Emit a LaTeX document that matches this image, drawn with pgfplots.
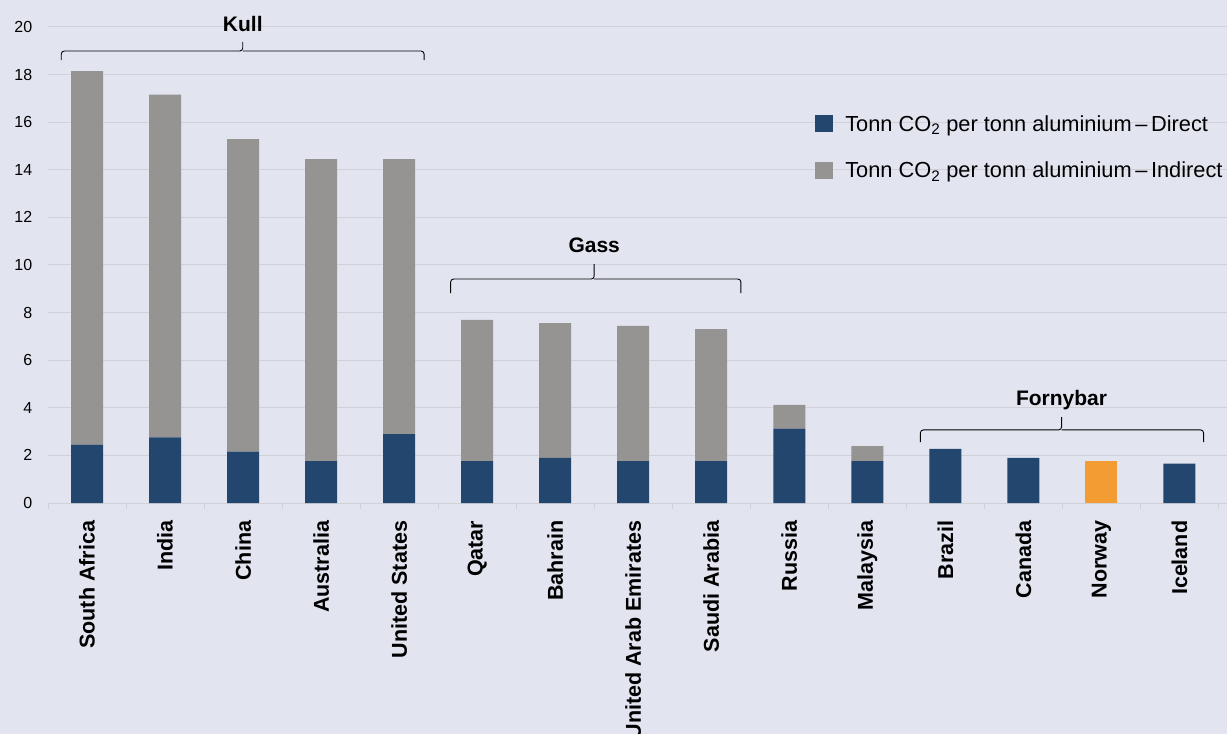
\documentclass[border=0pt]{standalone}
\usepackage{fontspec}
\setmainfont{Liberation Sans}
\usepackage{pgfplots}
\usepackage{pgfplotstable}
\pgfplotsset{compat=1.18}

\definecolor{bgc}{RGB}{226,228,240}
\definecolor{direct}{RGB}{35,70,111}
\definecolor{indirect}{RGB}{149,148,146}
\definecolor{norway}{RGB}{242,156,51}
\definecolor{gridc}{RGB}{208,209,214}

% x direct norway indirect
\pgfplotstableread{
x  direct norway indirect
0  2.45   0      15.70
1  2.76   0      14.40
2  2.16   0      13.13
3  1.76   0      12.69
4  2.89   0      11.56
5  1.76   0      5.93
6  1.90   0      5.66
7  1.76   0      5.68
8  1.76   0      5.55
9  3.12   0      1.00
10 1.76   0      0.63
11 2.27   0      0
12 1.90   0      0
13 0      1.76   0
14 1.65   0      0
}\datatable

\begin{document}
\begin{tikzpicture}
\useasboundingbox (0,0) rectangle (1227pt,734pt);
\clip (0,0) rectangle (1227pt,734pt);
\fill[bgc] (0,0) rectangle (1227pt,734pt);
\begin{axis}[
    at={(48pt,231pt)}, anchor=south west,
    scale only axis, width=1179pt, height=476pt,
    xmin=-0.5, xmax=14.61, ymin=0, ymax=20,
    ybar stacked, bar width=0.41,
    clip=false,
    separate axis lines,
    axis x line*=bottom, axis y line*=left,
    x axis line style={draw=gridc, line width=1pt, -},
    y axis line style={draw=none},
    xtick={0,...,14},
    xticklabels={South Africa,India,China,Australia,United States,Qatar,Bahrain,United Arab Emirates,Saudi Arabia,Russia,Malaysia,Brazil,Canada,Norway,Iceland},
    x tick label style={rotate=90, anchor=east, font=\bfseries\fontsize{21.5}{23}\selectfont},
    xticklabel shift=10pt,
    major x tick style={draw=none},
    minor xtick={-0.5,0.5,...,14.5},
    minor tick length=6pt,
    minor x tick style={draw=gridc, line width=1pt},
    tick align=outside,
    ytick={0,2,...,20},
    major y tick style={draw=none},
    y tick label style={font=\fontsize{16}{18}\selectfont, xshift=-8pt},
    /pgf/number format/assume math mode=true,
    ymajorgrids, grid style={draw=gridc, line width=1pt},
    legend style={at={(rel axis cs:0.6506,0.8155)}, anchor=north west,
        draw=none, fill=none, inner sep=0pt,
        font=\fontsize{21.8}{24}\selectfont,
        nodes={inner sep=0pt, anchor=base west},
        row sep=29pt,
        /tikz/every odd column/.append style={column sep=12pt}},
    legend cell align=left,
    legend image code/.code={\fill[#1] (0pt,-1pt) rectangle (18pt,16pt);},
]
\addplot[fill=direct, draw=none] table[x=x, y=direct] {\datatable};
\addlegendentry{Tonn CO\textsubscript{2} per tonn aluminium\,–\,Direct}
\addplot[fill=norway, draw=none, forget plot] table[x=x, y=norway] {\datatable};
\addplot[fill=indirect, draw=none] table[x=x, y=indirect] {\datatable};
\addlegendentry{Tonn CO\textsubscript{2} per tonn aluminium\,–\,Indirect}

% group braces
\draw[line width=0.9pt, rounded corners=3pt]
    (axis cs:-0.33,18.61) |- (axis cs:1.996,18.99) -- (axis cs:1.996,19.37);
\draw[line width=0.9pt, rounded corners=3pt]
    (axis cs:1.996,18.99) -| (axis cs:4.32,18.61);
\node[anchor=base, font=\bfseries\fontsize{21}{24}\selectfont] at (axis cs:1.996,19.83) {Kull};

\draw[line width=0.9pt, rounded corners=3pt]
    (axis cs:4.66,8.82) |- (axis cs:6.5,9.41) -- (axis cs:6.5,10.04);
\draw[line width=0.9pt, rounded corners=3pt]
    (axis cs:6.5,9.41) -| (axis cs:8.38,8.82);
\node[anchor=base, font=\bfseries\fontsize{21}{24}\selectfont] at (axis cs:6.5,10.51) {Gass};

\draw[line width=0.9pt, rounded corners=3pt]
    (axis cs:10.68,2.56) |- (axis cs:12.49,3.07) -- (axis cs:12.49,3.61);
\draw[line width=0.9pt, rounded corners=3pt]
    (axis cs:12.49,3.07) -| (axis cs:14.31,2.56);
\node[anchor=base, font=\bfseries\fontsize{21}{24}\selectfont] at (axis cs:12.49,4.08) {Fornybar};
\end{axis}
\end{tikzpicture}
\end{document}
